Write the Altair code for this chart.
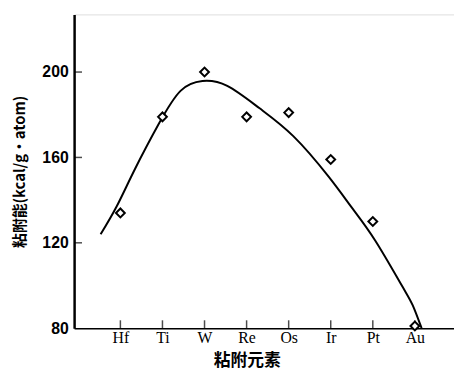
import altair as alt
import pandas as pd

elements = ["Hf", "Ti", "W", "Re", "Os", "Ir", "Pt", "Au"]
positions = [1, 2, 3, 4, 5, 6, 7, 8]
energy = [134, 179, 200, 179, 181, 159, 130, 81]

curve_x = [0.53, 0.91, 1.35, 1.92, 2.43, 2.95, 3.54, 4.31, 5.11, 5.95, 6.52, 7.06, 7.69, 7.95, 8.16]
curve_y = [124, 137, 154.7, 176, 191.2, 195.8, 193.5, 183, 170, 151, 136, 121, 100, 90.7, 80]

y_ticks = [120, 160, 200]

pts = pd.DataFrame({"pos": positions, "el": elements, "e": energy})
crv = pd.DataFrame({"x": curve_x, "y": curve_y})
xt = pd.DataFrame({"pos": positions, "y": [80] * len(positions)})
yt = pd.DataFrame({"x": [-0.1] * len(y_ticks), "y": y_ticks})

xscale = alt.Scale(domain=[-0.1, 8.93], nice=False, zero=False)
yscale = alt.Scale(domain=[80, 227], nice=False, zero=False)

label_expr = "['', 'Hf', 'Ti', 'W', 'Re', 'Os', 'Ir', 'Pt', 'Au'][datum.value]"

xaxis = alt.Axis(
    values=positions, labelExpr=label_expr, ticks=False, grid=False,
    domainColor="black", domainWidth=1.5, labelFont="Liberation Serif",
    labelFontSize=16, labelColor="black", labelPadding=2,
    title="粘附元素", titleFont="Noto Sans CJK SC", titleFontSize=17,
    titleFontWeight="bold", titleColor="black", titleX=175, titlePadding=7,
)
yaxis = alt.Axis(
    values=[80, 120, 160, 200], ticks=False, grid=False,
    domainColor="black", domainWidth=2.5, labelFont="Liberation Sans",
    labelFontSize=16, labelFontWeight="bold", labelColor="black", labelPadding=6,
    title="粘附能(kcal/g·atom)", titleFont="Noto Sans CJK SC", titleFontSize=15,
    titleFontWeight="bold", titleColor="black", titlePadding=15,
)

line = alt.Chart(crv).mark_line(color="black", strokeWidth=2, interpolate="natural").encode(
    x=alt.X("x:Q", scale=xscale, axis=xaxis),
    y=alt.Y("y:Q", scale=yscale, axis=yaxis),
)

points = alt.Chart(pts).mark_point(
    shape="diamond", size=80, filled=True, fill="white", stroke="black", strokeWidth=2, opacity=1
).encode(
    x=alt.X("pos:Q", scale=xscale),
    y=alt.Y("e:Q", scale=yscale),
)

xticks = alt.Chart(xt).mark_tick(orient="vertical", size=8, thickness=1.5, color="black", yOffset=-4).encode(
    x=alt.X("pos:Q", scale=xscale),
    y=alt.Y("y:Q", scale=yscale),
)

yticks = alt.Chart(yt).mark_tick(orient="horizontal", size=8, thickness=1.5, color="black", xOffset=4).encode(
    x=alt.X("x:Q", scale=xscale),
    y=alt.Y("y:Q", scale=yscale),
)

chart = alt.layer(line, xticks, yticks, points).properties(
    width=385, height=318,
    autosize=alt.AutoSizeParams(type="none"),
    padding={"left": 67, "top": 4, "right": 0, "bottom": 50},
).configure_view(stroke=None).configure(background="white")

chart.save("out.html", embed_options={"renderer": "svg", "actions": False})
